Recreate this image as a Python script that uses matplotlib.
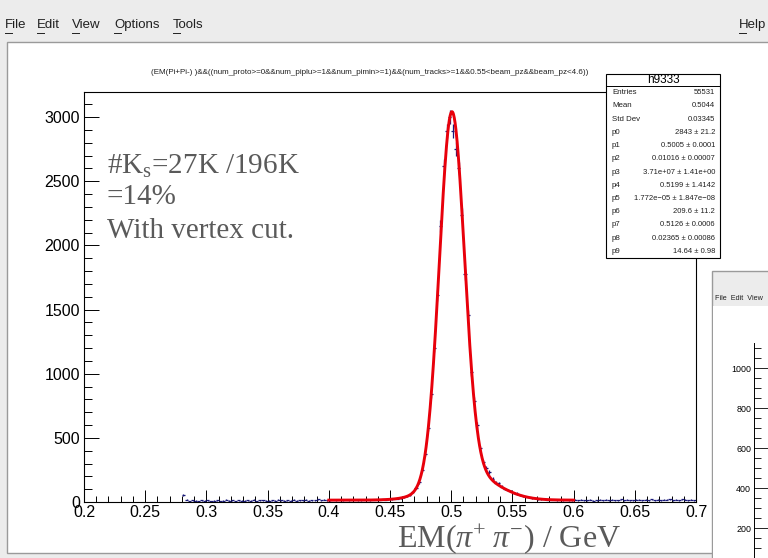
import numpy as np
import matplotlib
matplotlib.use("Agg")
import matplotlib.pyplot as plt
from matplotlib.patches import Rectangle
from matplotlib.ticker import MultipleLocator

plt.rcParams['font.family'] = ['Liberation Sans', 'DejaVu Sans']
plt.rcParams['mathtext.fontset'] = 'custom'
plt.rcParams['mathtext.rm'] = 'Liberation Serif'
plt.rcParams['mathtext.it'] = 'Liberation Serif:italic'

# EM(pi+ pi-) histogram, 200 bins of 2.5 MeV between 0.2 and 0.7 GeV
x_lo, x_hi, n_bins = 0.2, 0.7, 200
counts_low = [0] * 30 + [
    0, 0, 55, 18, 8, 14, 10, 6, 12, 9, 15, 7, 11, 13, 8, 10, 16, 9, 12, 7,
    14, 11, 9, 13, 10, 18, 8, 12, 15, 9, 11, 14, 10, 16, 12, 9, 13, 11, 17, 10,
    14, 12, 18, 11, 15, 13, 20, 12, 16, 14]
counts_peak = [
    14, 17, 12, 16, 15, 19, 13, 16, 18, 14,
    15, 17, 16, 13, 18, 16, 17, 20, 19, 21,
    23, 25, 26, 33, 37, 46, 58, 80, 112, 155,
    250, 375, 580, 840, 1200, 1610, 2150, 2620, 2890, 3000,
    2890, 2750, 2600, 2240, 1775, 1457, 1010, 790, 597, 419,
    310, 262, 235, 180, 150, 145, 118, 102, 93, 85,
    72, 66, 52, 48, 42, 36, 30, 28, 24, 23,
    20, 19, 17, 18, 15, 17, 14, 16, 13, 15]
counts_high = [
    16, 13, 18, 12, 15, 17, 11, 14, 19, 13, 16, 12, 18, 15, 14, 20, 13, 17, 15, 12,
    19, 16, 14, 18, 13, 21, 15, 17, 14, 19, 16, 22, 15, 18, 13, 20, 17, 15, 19, 14]

# fit result: gaus(p0..p2) + gaus(p3..p5) + gaus(p6..p8) + p9, range 0.4-0.6
fit_names = ["p0", "p1", "p2", "p3", "p4", "p5", "p6", "p7", "p8", "p9"]
fit_vals = ["2843", "0.5005", "0.01016", "3.71e+07", "0.5199", "1.772e\u221205",
            "209.6", "0.5126", "0.02365", "14.64"]
fit_errs = ["21.2", "0.0001", "0.00007", "1.41e+00", "1.4142", "1.847e\u221208",
            "11.2", "0.0006", "0.00086", "0.98"]
fit_par = [2843, 0.5005, 0.01016, 3.71e7, 0.5199, 1.772e-05, 209.6, 0.5126, 0.02365, 14.64]
fit_range = (0.4, 0.6)

stat_names = ["Entries", "Mean", "Std Dev"]
stat_vals = ["55531", "0.5044", "0.03345"]

title = ("(EM(Pi+Pi-) )&&((num_proto>=0&&num_piplu>=1&&num_pimin>=1)"
         "&&(num_tracks>=1&&0.55<beam_pz&&beam_pz<4.6))")
menu_items = ["File", "Edit", "View", "Options", "Tools"]
menu_x = [5, 37, 72, 114, 173]
side_ticks = [200, 400, 600, 800, 1000]

W, H = 768, 558


def rect(x0, y0, x1, y1):
    return [x0 / W, 1 - y1 / H, (x1 - x0) / W, (y1 - y0) / H]


fig = plt.figure(figsize=(W / 100, H / 100), dpi=100, facecolor='#ececec')

# window chrome
bg = fig.add_axes([0, 0, 1, 1], zorder=-1)
bg.set_xlim(0, W)
bg.set_ylim(H, 0)
bg.axis('off')
bg.add_patch(Rectangle((7, 42), 770, 511, facecolor='white', edgecolor='#9a9a9a', lw=1))
for name, x in zip(menu_items, menu_x):
    bg.text(x, 19, name, fontsize=9.5, va='top', ha='left', color='#202020')
    bg.plot([x, x + 6.5], [32.5, 32.5], color='#202020', lw=0.7)
bg.text(766, 19, "Help", fontsize=9.5, va='top', ha='right', color='#202020')
bg.plot([739, 746], [32.5, 32.5], color='#202020', lw=0.7)
bg.text(370, 72, title, fontsize=5.8, ha='center', va='center', color='#202020')

# second canvas window on the right
bg.add_patch(Rectangle((712, 271), 80, 300, facecolor='#ececec', edgecolor='#9a9a9a', lw=1))
bg.add_patch(Rectangle((713, 306), 80, 300, facecolor='white', edgecolor='none'))
bg.text(715, 295, "File  Edit  View", fontsize=5.2, va='top', ha='left', color='#202020')

ax2 = fig.add_axes(rect(754, 343, 800, 568), zorder=1)
ax2.set_ylim(0, 1125)
ax2.set_xlim(0, 1)
for s in ['top', 'right', 'bottom']:
    ax2.spines[s].set_visible(False)
ax2.spines['left'].set_linewidth(0.7)
ax2.set_xticks([])
ax2.set_yticks(side_ticks)
ax2.yaxis.set_minor_locator(MultipleLocator(50))
ax2.tick_params(axis='y', which='major', direction='in', length=10, width=0.6,
                labelsize=6.4, pad=2)
ax2.tick_params(axis='y', which='minor', direction='in', length=5, width=0.6)
ax2.patch.set_alpha(0)

# main histogram frame
ax = fig.add_axes(rect(84, 92, 696, 502), zorder=1)
edges = np.linspace(x_lo, x_hi, n_bins + 1)
centers = 0.5 * (edges[:-1] + edges[1:])
counts = np.array(counts_low + counts_peak + counts_high, dtype=float)
keep = counts > 0
ax.errorbar(centers[keep], counts[keep], xerr=0.5 * (x_hi - x_lo) / n_bins,
            yerr=np.sqrt(counts[keep]), fmt='none', ecolor='#1a1a7a', elinewidth=0.9)

xf = np.linspace(fit_range[0], fit_range[1], 600)
p = fit_par
yf = (p[0] * np.exp(-0.5 * ((xf - p[1]) / p[2]) ** 2)
      + p[6] * np.exp(-0.5 * ((xf - p[7]) / p[8]) ** 2) + p[9])
ax.plot(xf, yf, color='#e8000b', lw=2.1, zorder=3)

ax.set_xlim(x_lo, x_hi)
ax.set_ylim(0, 3195)
ax.xaxis.set_major_locator(MultipleLocator(0.05))
ax.xaxis.set_minor_locator(MultipleLocator(0.01))
ax.yaxis.set_major_locator(MultipleLocator(500))
ax.yaxis.set_minor_locator(MultipleLocator(100))
ax.xaxis.set_major_formatter(plt.FuncFormatter(lambda v, _: f"{v:g}"))
ax.tick_params(axis='x', which='major', direction='in', length=8.5, width=0.7,
               labelsize=11.5, pad=2, top=False)
ax.tick_params(axis='x', which='minor', direction='in', length=4.5, width=0.7, top=False)
ax.tick_params(axis='y', which='major', direction='in', length=10.5, width=0.7,
               labelsize=11.5, pad=3, right=False)
ax.tick_params(axis='y', which='minor', direction='in', length=5.5, width=0.7, right=False)
for s in ax.spines.values():
    s.set_linewidth(0.8)

# overlay: stats box and notes
ov = fig.add_axes([0, 0, 1, 1], zorder=5)
ov.set_xlim(0, W)
ov.set_ylim(H, 0)
ov.axis('off')
bx0, by0, bx1, by1 = 606, 74, 720, 258
ov.add_patch(Rectangle((bx0, by0), bx1 - bx0, by1 - by0, facecolor='white',
                       edgecolor='black', lw=0.8))
ov.plot([bx0, bx1], [86, 86], color='black', lw=0.7)
ov.text((bx0 + bx1) / 2, 80, "h9333", fontsize=8.5, ha='center', va='center')
rows = list(zip(stat_names, stat_vals))
rows += [(n, f"{v} \u00b1 {e}") for n, v, e in zip(fit_names, fit_vals, fit_errs)]
row_h = (by1 - 86) / len(rows)
for i, (n, v) in enumerate(rows):
    yy = 86 + row_h * (i + 0.5)
    ov.text(bx0 + 6, yy, n, fontsize=5.7, ha='left', va='center', color='#202020')
    ov.text(bx1 - 5, yy, v, fontsize=5.5, ha='right', va='center', color='#202020')

note_kw = dict(fontsize=21, color='#5a5a5a', family='Liberation Serif', ha='left', va='center')
ov.text(107, 166, r"#K$_\mathrm{s}$=27K /196K", **note_kw)
ov.text(107, 197, "=14%", **note_kw)
ov.text(107, 231, "With vertex cut.", **note_kw)
ov.text(509, 539, r"EM($\pi^{+}\;\pi^{-}$) / GeV", fontsize=23, color='#5a5a5a',
        family='Liberation Serif', ha='center', va='center')

fig.savefig("out.png", dpi=100, facecolor=fig.get_facecolor())
